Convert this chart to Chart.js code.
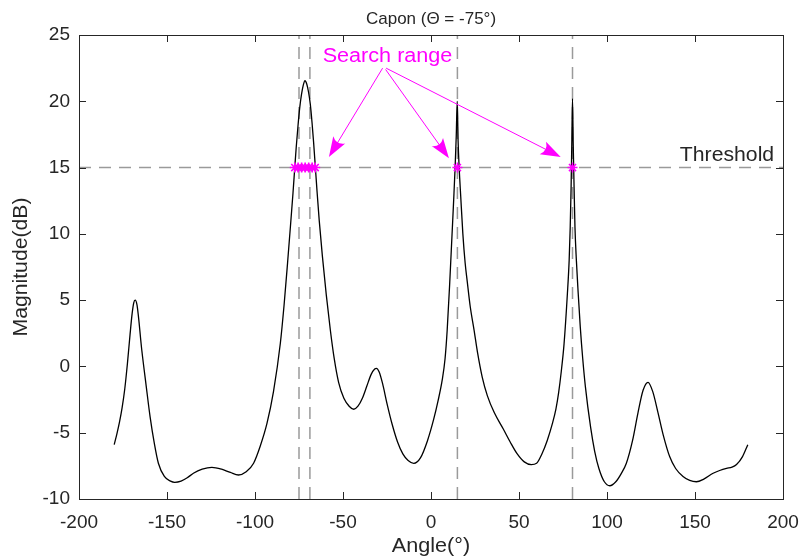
<!DOCTYPE html>
<html>
<head>
<meta charset="utf-8">
<script src="https://cdn.jsdelivr.net/npm/chart.js@4.4.0/dist/chart.umd.min.js"></script>
<style>
  html, body { margin: 0; padding: 0; background: #fff; }
</style>
</head>
<body>
<canvas id="capon" width="804" height="559"></canvas>
<script>
// Capon spectrum (angle in degrees, magnitude in dB)
const angles = [
  -180, -178.5, -177, -175.5, -174, -172.5, -171, -169.8, -168.9, -168.1,
  -167, -164.3, -161.8, -159.6, -157.2, -154.9, -151.5, -148, -145.6, -142,
  -138.5, -135, -130, -124.5, -119, -114, -109.4, -105, -100.8, -97,
  -93.2, -89.5, -85.6, -83.5, -81.5, -79.5, -78.4, -77.4, -76.6, -75.6,
  -74.6, -73.6, -72.6, -71.6, -70.6, -69.6, -68.6, -67.6, -66.7, -65.8,
  -64.8, -63.5, -61.7, -59.5, -57.2, -55, -52.5, -49.5, -46.5, -43.9,
  -41.5, -39, -36.5, -34, -32, -31, -29.5, -27.5, -25, -22,
  -19, -16, -13, -9.8, -6, -2, 1.5, 4, 6.4, 8,
  9.2, 10.6, 11.9, 12.9, 13.7, 14.35, 14.9, 15.4, 16.0, 16.9,
  18.1, 19.4, 20.6, 22.3, 24.4, 26.5, 29.1, 32, 36, 41,
  45, 49, 53, 57, 60, 63, 66, 69, 71, 72.5,
  74, 75.6, 77.5, 78.5, 79.1, 79.6, 80.0, 80.4, 80.8, 81.3,
  81.8, 82.6, 83.6, 84.8, 86.2, 87.7, 90.7, 93, 95.4, 98.5,
  101.6, 105, 108, 111, 114.5, 117.6, 120.5, 123.3, 126, 129,
  132, 135.6, 139, 143.2, 147, 150.8, 155, 160.3, 164, 167.9,
  171, 173.6, 177, 180
];
const magnitude = [
  -5.9, -5.1, -4.2, -3.1, -1.7, 0.2, 2.4, 4.0, 4.8, 5.0,
  4.6, 1.2, -1.5, -3.8, -5.8, -7.3, -8.3, -8.65, -8.74, -8.65,
  -8.4, -8.06, -7.75, -7.61, -7.75, -8.0, -8.19, -7.95, -7.3, -6.0,
  -4.3, -1.9, 1.75, 4.6, 7.8, 11.2, 13.1, 15.0, 16.5, 18.1,
  19.5, 20.5, 21.2, 21.55, 21.3, 20.7, 19.8, 18.4, 16.9, 15.2,
  13.3, 11.0, 8.3, 5.4, 2.75, 0.6, -1.2, -2.4, -3.0, -3.23,
  -3.0, -2.4, -1.5, -0.6, -0.2, -0.14, -0.4, -1.3, -2.8, -4.4,
  -5.7, -6.6, -7.1, -7.31, -6.9, -5.6, -4.0, -2.6, -1.0, 0.6,
  2.75, 6.2, 9.8, 12.6, 15.0, 17.4, 20.0, 17.0, 15.0, 12.8,
  10.0, 7.8, 6.4, 4.5, 2.8, 1.0, -0.8, -2.2, -3.5, -4.7,
  -5.7, -6.6, -7.2, -7.4, -7.3, -6.6, -5.6, -4.3, -3.2, -2.0,
  -0.4, 1.7, 5.5, 8.0, 10.5, 13.5, 16.8, 20.2, 16.8, 13.5,
  10.5, 8.0, 5.6, 3.0, 0.6, -1.5, -4.6, -6.4, -7.7, -8.7,
  -9.0, -8.7, -8.1, -7.3, -5.6, -3.5, -1.8, -1.2, -1.9, -3.5,
  -5.2, -6.8, -7.7, -8.3, -8.6, -8.7, -8.5, -8.06, -7.85, -7.69,
  -7.6, -7.4, -6.8, -5.9
];

const threshold = 15;
const starAngles = [-77.4, -75.5, -73.5, -71.5, -69.5, -67.5, -65.8, 15, 80.4];
const searchLines = [-75, -68.8, 15, 80.4];

const xMin = -200, xMax = 200, xStep = 50;
const yMin = -10, yMax = 25, yStep = 5;
const xTicks = [-200, -150, -100, -50, 0, 50, 100, 150, 200];
const yTicks = [-10, -5, 0, 5, 10, 15, 20, 25];

// "Search range" arrows, tail -> head in data units
const arrowTails = [[-27.5, 22.5], [-25.8, 22.4], [-25.5, 22.5]];
const arrowHeads = [[-58.0, 15.8], [10.2, 15.7], [73.7, 15.8]];

const MAGENTA = '#ff00ff';
const GREY = '#9a9a9a';
const AXIS = '#262626';
const FONT = '"Liberation Sans", Arial, Helvetica, sans-serif';

function stretchedText(ctx, str, x, y, align, sx) {
  const w = ctx.measureText(str).width * sx;
  let left = x;
  if (align === 'center') left = x - w / 2;
  else if (align === 'right') left = x - w;
  ctx.save();
  ctx.translate(left, y);
  ctx.scale(sx, 1);
  ctx.textAlign = 'left';
  ctx.fillText(str, 0, 0);
  ctx.restore();
}

function drawArrow(ctx, x0, y0, x1, y1) {
  const ang = Math.atan2(y1 - y0, x1 - x0);
  const len = 20, half = 7;
  ctx.beginPath();
  ctx.moveTo(x0, y0);
  ctx.lineTo(x1 - Math.cos(ang) * len * 0.6, y1 - Math.sin(ang) * len * 0.6);
  ctx.stroke();
  ctx.save();
  ctx.translate(x1, y1);
  ctx.rotate(ang);
  ctx.beginPath();
  ctx.moveTo(0, 0);
  ctx.lineTo(-len, -half);
  ctx.quadraticCurveTo(-len * 0.7, 0, -len, half);
  ctx.closePath();
  ctx.fill();
  ctx.restore();
}

// box, inward ticks and all the free text
const decorations = {
  id: 'decorations',
  afterDatasetsDraw(chart) {
    const ctx = chart.ctx;
    const xs = chart.scales.x, ys = chart.scales.y;
    ctx.save();
    ctx.strokeStyle = MAGENTA;
    ctx.fillStyle = MAGENTA;
    ctx.lineWidth = 1;
    arrowTails.forEach((t, i) => {
      const h = arrowHeads[i];
      drawArrow(ctx, xs.getPixelForValue(t[0]), ys.getPixelForValue(t[1]),
        xs.getPixelForValue(h[0]), ys.getPixelForValue(h[1]));
    });
    ctx.font = '20px ' + FONT;
    ctx.textBaseline = 'alphabetic';
    stretchedText(ctx, 'Search range', xs.getPixelForValue(-24.7), ys.getPixelForValue(22.94), 'center', 1.08);
    ctx.restore();
  },
  afterDraw(chart) {
    const ctx = chart.ctx;
    const a = chart.chartArea;
    const xs = chart.scales.x, ys = chart.scales.y;
    ctx.save();
    ctx.strokeStyle = AXIS;
    ctx.lineWidth = 1;
    ctx.strokeRect(a.left + 0.5, a.top + 0.5, a.right - a.left, a.bottom - a.top);
    const tl = 7;
    ctx.beginPath();
    xTicks.forEach(v => {
      const px = Math.round(xs.getPixelForValue(v)) + 0.5;
      ctx.moveTo(px, a.bottom); ctx.lineTo(px, a.bottom - tl);
      ctx.moveTo(px, a.top); ctx.lineTo(px, a.top + tl);
    });
    yTicks.forEach(v => {
      const py = Math.round(ys.getPixelForValue(v)) + 0.5;
      ctx.moveTo(a.left, py); ctx.lineTo(a.left + tl, py);
      ctx.moveTo(a.right, py); ctx.lineTo(a.right - tl, py);
    });
    ctx.stroke();

    ctx.fillStyle = AXIS;
    ctx.textBaseline = 'alphabetic';
    const midX = (a.left + a.right) / 2;
    ctx.font = '17px ' + FONT;
    stretchedText(ctx, 'Capon (\u0398 = -75\u00b0)', midX, 24, 'center', 1.0);
    ctx.font = '20px ' + FONT;
    stretchedText(ctx, 'Angle(\u00b0)', midX, 551.5, 'center', 1.08);
    stretchedText(ctx, 'Threshold', xs.getPixelForValue(141.4), ys.getPixelForValue(threshold) - 7, 'left', 1.06);

    ctx.save();
    ctx.translate(26.5, (a.top + a.bottom) / 2);
    ctx.rotate(-Math.PI / 2);
    stretchedText(ctx, 'Magnitude(dB)', 0, 0, 'center', 1.06);
    ctx.restore();
    ctx.restore();
  }
};

const curve = angles.map((x, i) => ({ x: x, y: magnitude[i] }));
const stars = starAngles.map(x => ({ x: x, y: threshold }));

const datasets = [
  {
    data: stars,
    showLine: false,
    pointStyle: 'star',
    pointRadius: 5,
    borderColor: MAGENTA,
    backgroundColor: MAGENTA,
    pointBorderWidth: 1.6,
    order: 0
  },
  {
    data: curve,
    borderColor: '#000',
    borderWidth: 1.3,
    pointRadius: 0,
    cubicInterpolationMode: 'monotone',
    order: 1
  },
  {
    data: [{ x: xMin, y: threshold }, { x: xMax, y: threshold }],
    borderColor: GREY,
    borderWidth: 1.5,
    borderDash: [12, 8],
    pointRadius: 0,
    order: 2
  }
];
searchLines.forEach(x => {
  datasets.push({
    data: [{ x: x, y: yMin }, { x: x, y: yMax }],
    borderColor: GREY,
    borderWidth: 1.5,
    borderDash: [12, 8],
    pointRadius: 0,
    order: 2
  });
});

new Chart(document.getElementById('capon'), {
  type: 'line',
  data: { datasets: datasets },
  options: {
    responsive: false,
    animation: false,
    layout: { padding: { top: 35, right: 21, left: 0, bottom: 0 } },
    plugins: { legend: { display: false }, tooltip: { enabled: false } },
    scales: {
      x: {
        type: 'linear',
        min: xMin, max: xMax,
        afterFit: s => { s.height = 60; s.paddingLeft = 0; s.paddingRight = 0; },
        grid: { display: false, drawTicks: false },
        border: { display: false },
        ticks: { stepSize: xStep, padding: 12, color: AXIS, font: { family: FONT, size: 19 } }
      },
      y: {
        min: yMin, max: yMax,
        afterFit: s => { s.width = 79; s.paddingTop = 0; s.paddingBottom = 0; },
        grid: { display: false, drawTicks: false },
        border: { display: false },
        ticks: { stepSize: yStep, padding: 9, color: AXIS, font: { family: FONT, size: 19 } }
      }
    }
  },
  plugins: [decorations]
});
</script>
</body>
</html>
